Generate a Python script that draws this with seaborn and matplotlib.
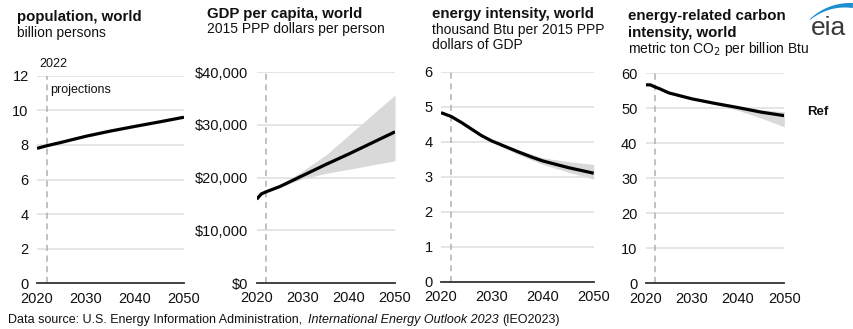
import numpy as np
import pandas as pd
import matplotlib
matplotlib.use("Agg")
import matplotlib.pyplot as plt
import seaborn as sns

sns.set_style("white")
plt.rcParams['font.family'] = ['Liberation Sans', 'DejaVu Sans']

# ---- data ----
pop_years = [2020, 2022, 2025, 2030, 2035, 2040, 2045, 2050]
pop_values = [7.8, 7.95, 8.15, 8.5, 8.8, 9.07, 9.33, 9.6]

gdp_years = [2020, 2021, 2022, 2025, 2030, 2035, 2040, 2045, 2050]
gdp_values = [15900, 16900, 17300, 18300, 20400, 22500, 24500, 26600, 28700]
gdp_band_years = [2025, 2030, 2035, 2040, 2045, 2050]
gdp_band_high = [18500, 21300, 24300, 28100, 31900, 35700]
gdp_band_low = [18200, 19800, 20800, 21600, 22400, 23200]

ei_years = [2020, 2022, 2024, 2026, 2028, 2030, 2032, 2035, 2038, 2040, 2045, 2050]
ei_values = [4.83, 4.72, 4.55, 4.36, 4.17, 4.02, 3.90, 3.72, 3.55, 3.45, 3.26, 3.1]
ei_band_years = [2028, 2030, 2035, 2040, 2045, 2050]
ei_band_high = [4.18, 4.05, 3.78, 3.54, 3.43, 3.35]
ei_band_low = [4.16, 3.99, 3.64, 3.35, 3.13, 2.93]

ci_years = [2020, 2021, 2022, 2023, 2025, 2030, 2035, 2040, 2045, 2050]
ci_values = [56.7, 56.7, 56.1, 55.6, 54.4, 52.7, 51.4, 50.2, 48.9, 47.9]
ci_band_years = [2030, 2035, 2040, 2045, 2050]
ci_band_high = [52.8, 51.6, 50.5, 49.6, 49.0]
ci_band_low = [52.6, 51.0, 49.4, 47.2, 44.7]

x_ticks = [2020, 2030, 2040, 2050]

W, H = 854, 329
fig = plt.figure(figsize=(W / 100, H / 100), dpi=100)

def add_ax(x0, x1, ytop, ybot):
    return fig.add_axes([x0 / W, 1 - ybot / H, (x1 - x0) / W, (ybot - ytop) / H])

panels = [
    dict(box=(37, 184, 75.7, 283.3), years=pop_years, vals=pop_values, band=None,
         ylim=(0, 12), yticks=[0, 2, 4, 6, 8, 10, 12], fmt=lambda v: f"{v:g}"),
    dict(box=(256.7, 395, 72.3, 283), years=gdp_years, vals=gdp_values,
         band=(gdp_band_years, gdp_band_low, gdp_band_high),
         ylim=(0, 40000), yticks=[0, 10000, 20000, 30000, 40000], fmt=lambda v: f"${v:,.0f}"),
    dict(box=(441, 593.7, 71.7, 281.7), years=ei_years, vals=ei_values,
         band=(ei_band_years, ei_band_low, ei_band_high),
         ylim=(0, 6), yticks=[0, 1, 2, 3, 4, 5, 6], fmt=lambda v: f"{v:g}"),
    dict(box=(645.7, 784.3, 73.3, 283.3), years=ci_years, vals=ci_values,
         band=(ci_band_years, ci_band_low, ci_band_high),
         ylim=(0, 60), yticks=[0, 10, 20, 30, 40, 50, 60], fmt=lambda v: f"{v:g}"),
]

for p in panels:
    ax = add_ax(*p['box'])
    if p['band'] is not None:
        by, bl, bh = p['band']
        ax.fill_between(by, bl, bh, color='#d9d9d9', linewidth=0, zorder=2)
    df = pd.DataFrame({'year': p['years'], 'value': p['vals']})
    sns.lineplot(data=df, x='year', y='value', ax=ax, color='black', linewidth=2.3,
                 zorder=4, solid_capstyle='butt', solid_joinstyle='round')
    ax.axvline(2022, color='#b0b0b0', linestyle=(0, (4, 3)), linewidth=1.1, zorder=3)
    ax.set_xlim(2020, 2050)
    ax.set_ylim(*p['ylim'])
    ax.set_yticks(p['yticks'])
    ax.set_yticklabels([p['fmt'](v) for v in p['yticks']])
    ax.set_xticks(x_ticks)
    ax.set_xticklabels([str(v) for v in x_ticks])
    ax.set_xlabel('')
    ax.set_ylabel('')
    for v in p['yticks'][1:]:
        ax.axhline(v, color='#e3e3e3', linewidth=1.3, zorder=1)
    for s in ['top', 'right', 'left']:
        ax.spines[s].set_visible(False)
    ax.spines['bottom'].set_color('#333333')
    ax.spines['bottom'].set_linewidth(1.3)
    ax.spines['bottom'].set_zorder(5)
    ax.tick_params(axis='x', direction='out', length=4, width=1.1, color='#333333',
                   labelsize=10.5, pad=2, labelcolor='#111111')
    ax.tick_params(axis='y', direction='out', length=5, width=1.0, color='#bbbbbb',
                   labelsize=10.5, pad=1, labelcolor='#111111')
    ax.patch.set_alpha(0)

# annotations
fig.text(39 / W, 1 - 64 / H, "2022", fontsize=9, color='#111111', va='center', ha='left')
fig.text(50 / W, 1 - 90 / H, "projections", fontsize=9, color='#111111', va='center', ha='left')
fig.text(807 / W, 1 - 112 / H, "Ref", fontsize=9.5, color='#111111', va='center', ha='left',
         fontweight='bold')

# titles
tcol = '#111111'
fig.text(17 / W, 1 - 17 / H, "population, world", fontsize=10.8, fontweight='bold', color=tcol, va='center')
fig.text(17 / W, 1 - 33 / H, "billion persons", fontsize=10, color=tcol, va='center')
fig.text(207 / W, 1 - 14 / H, "GDP per capita, world", fontsize=10.8, fontweight='bold', color=tcol, va='center')
fig.text(207 / W, 1 - 29 / H, "2015 PPP dollars per person", fontsize=10, color=tcol, va='center')
fig.text(432 / W, 1 - 14 / H, "energy intensity, world", fontsize=10.8, fontweight='bold', color=tcol, va='center')
fig.text(432 / W, 1 - 30 / H, "thousand Btu per 2015 PPP", fontsize=10, color=tcol, va='center')
fig.text(432 / W, 1 - 45 / H, "dollars of GDP", fontsize=10, color=tcol, va='center')
fig.text(628 / W, 1 - 16 / H, "energy-related carbon", fontsize=10.8, fontweight='bold', color=tcol, va='center')
fig.text(628 / W, 1 - 33 / H, "intensity, world", fontsize=10.8, fontweight='bold', color=tcol, va='center')
fig.text(628 / W, 1 - 49 / H, "metric ton CO$_2$ per billion Btu", fontsize=10, color=tcol, va='center')

# footer
fig.text(8 / W, 1 - 320 / H, "Data source: U.S. Energy Information Administration, ", fontsize=9,
         color=tcol, va='center', ha='left')
fig.text(308 / W, 1 - 320 / H, "International Energy Outlook 2023", fontsize=9, style='italic',
         color=tcol, va='center', ha='left')
fig.text(502 / W, 1 - 320 / H, "(IEO2023)", fontsize=9, color=tcol, va='center', ha='left')

# eia logo
fig.text(829 / W, 1 - 28 / H, "eia", fontsize=19, color='#3a3a3a', va='center', ha='center')
lax = fig.add_axes([0, 0, 1, 1])
lax.set_xlim(0, W)
lax.set_ylim(H, 0)
lax.axis('off')
cx, cy, r = 850, 61, 58
t = np.linspace(np.deg2rad(226), np.deg2rad(273), 60)
outer_x = cx + r * np.cos(t)
outer_y = cy + r * np.sin(t)
w = np.linspace(0.8, 5.0, 60)
inner_x = cx + (r - w) * np.cos(t)
inner_y = cy + (r - w) * np.sin(t)
lax.fill(np.concatenate([outer_x, inner_x[::-1]]), np.concatenate([outer_y, inner_y[::-1]]),
         color='#1d8fd1', linewidth=0)

fig.savefig("out.png", dpi=100)
